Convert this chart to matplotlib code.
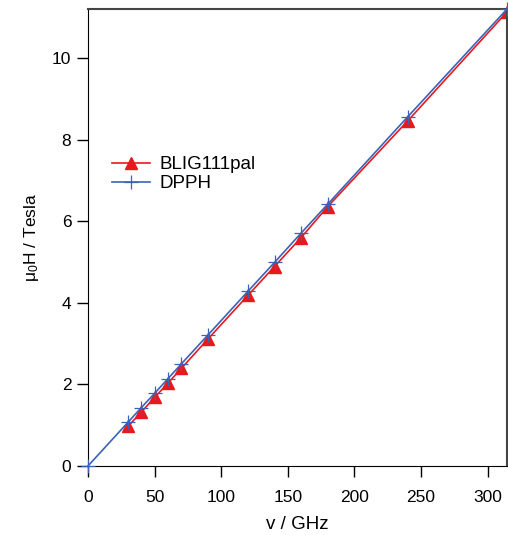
import numpy as np
import matplotlib
matplotlib.use('Agg')
from matplotlib import pyplot as plt

plt.rcParams['font.family'] = ['Liberation Sans', 'DejaVu Sans']

# field vs frequency
freq_blig = [30, 40, 50, 60, 70, 90, 120, 140, 160, 180, 240, 314.5]
h_blig = [0.97, 1.32, 1.68, 2.03, 2.39, 3.11, 4.18, 4.89, 5.60, 6.36, 8.46, 11.13]
freq_dpph = [0, 30, 40, 50, 60, 70, 90, 120, 140, 160, 180, 240, 314.5]
h_dpph = [0, 1.07, 1.43, 1.78, 2.14, 2.50, 3.21, 4.28, 4.99, 5.71, 6.42, 8.56, 11.2]

red = '#e8191e'
blue = '#3a62b8'

fig = plt.figure(figsize=(5.08, 5.35), dpi=100)
ax = fig.add_axes([0.1732, 0.129, 0.8248, 0.854])

ax.plot(freq_blig, h_blig, color=red, lw=1.2, marker='^', ms=8.5, mec=red, mfc=red,
        label='BLIG111pal', clip_on=False, zorder=2)
ax.plot(freq_dpph, h_dpph, color=blue, lw=1.2, marker='+', ms=10, mew=0.9,
        label='DPPH', clip_on=False, zorder=3)

ax.set_xlim(0, 314.5)
ax.set_ylim(0, 11.2)
ax.set_xticks([0, 50, 100, 150, 200, 250, 300])
ax.set_yticks([0, 2, 4, 6, 8, 10])
ax.tick_params(axis='x', direction='out', length=8, width=1, labelsize=12.5, pad=9)
ax.tick_params(axis='y', direction='out', length=8, width=1, labelsize=12.5, pad=4)
for s in ['left', 'bottom']:
    ax.spines[s].set_color('black')
for s in ['top', 'right']:
    ax.spines[s].set_color('#444444')
    ax.spines[s].set_linewidth(1.5)

ax.set_xlabel('v / GHz', fontsize=13.5, labelpad=8)
ax.set_ylabel(r'$\mathregular{\mu_0}$H / Tesla', fontsize=12.5, labelpad=8)

ax.legend(loc='upper left', bbox_to_anchor=(0.04, 0.695), frameon=False,
          fontsize=13.5, handlelength=2.0, handletextpad=0.5, borderaxespad=0,
          labelspacing=0.1)

fig.savefig('out.png', dpi=100)
